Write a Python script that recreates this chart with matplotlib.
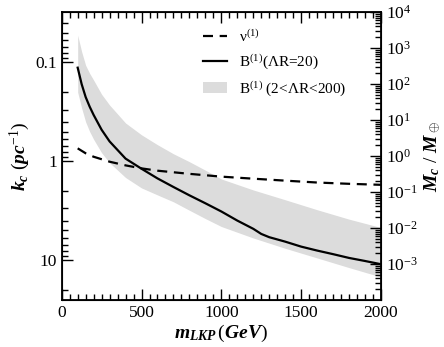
import numpy as np
import matplotlib
matplotlib.use('Agg')
import matplotlib.pyplot as plt
from matplotlib.ticker import FixedLocator, FixedFormatter, LogLocator, MultipleLocator, LogFormatterMathtext, NullFormatter

plt.rcParams['font.family'] = ['Liberation Serif', 'DejaVu Serif']
plt.rcParams['mathtext.fontset'] = 'custom'
plt.rcParams['mathtext.rm'] = 'Liberation Serif'
plt.rcParams['mathtext.it'] = 'Liberation Serif:italic:bold'
plt.rcParams['mathtext.bf'] = 'Liberation Serif:bold'
plt.rcParams['mathtext.default'] = 'rm'

#data (k_c in pc^-1 vs LKP mass in GeV)
m_solid = [100, 125, 150, 175, 200, 250, 300, 400, 500, 600, 700, 800, 900, 1000, 1100, 1200, 1250,
           1300, 1400, 1500, 1600, 1700, 1800, 1900, 2000]
k_solid = [0.113, 0.166, 0.224, 0.28, 0.34, 0.48, 0.63, 0.94, 1.19, 1.49, 1.82, 2.21, 2.66, 3.22, 3.98, 4.82, 5.43,
           5.86, 6.5, 7.3, 8.0, 8.7, 9.5, 10.2, 11.0]

m_dash = [100, 150, 200, 300, 400, 500, 600, 800, 1000, 1200, 1400, 1600, 1800, 2000]
k_dash = [0.74, 0.83, 0.90, 1.01, 1.10, 1.18, 1.245, 1.34, 1.43, 1.50, 1.57, 1.64, 1.69, 1.73]

m_band = [100, 125, 150, 175, 200, 250, 300, 400, 500, 600, 700, 800, 900, 1000, 1200, 1400, 1600, 1800, 2000]
k_band_low = [0.053, 0.078, 0.107, 0.129, 0.151, 0.21, 0.27, 0.41, 0.54, 0.68, 0.84, 1.01, 1.23, 1.51,
              1.95, 2.45, 3.09, 3.85, 4.68]
k_band_high = [0.20, 0.29, 0.40, 0.50, 0.60, 0.82, 1.035, 1.46, 1.86, 2.19, 2.57, 3.13, 3.80, 4.57,
               5.97, 7.59, 9.5, 11.9, 14.8]

k_ticks = [0.1, 1, 10]
k_labels = ['0.1', '1', '10']
mass_ticks = [1e-3, 1e-2, 1e-1, 1e0, 1e1, 1e2, 1e3, 1e4]

#figure
fig = plt.figure(figsize=(4.44, 3.47), dpi=100)
ax = fig.add_axes([0.139, 0.135, 0.719, 0.830])

band = ax.fill_between(m_band, k_band_low, k_band_high, color='#dcdcdc', linewidth=0)
dash, = ax.plot(m_dash, k_dash, color='black', linestyle=(0, (4.5, 3)), linewidth=1.6)
solid, = ax.plot(m_solid, k_solid, color='black', linewidth=1.6)

ax.set_xlim(0, 2000)
ax.set_yscale('log')
ax.set_ylim(25.4, 0.031)
ax.yaxis.set_major_locator(FixedLocator(k_ticks))
ax.yaxis.set_major_formatter(FixedFormatter(k_labels))
ax.yaxis.set_minor_locator(LogLocator(base=10, subs=np.arange(2, 10)))
ax.yaxis.set_minor_formatter(NullFormatter())
ax.xaxis.set_major_locator(MultipleLocator(500))
ax.xaxis.set_minor_locator(MultipleLocator(50))

ax.tick_params(which='both', direction='in', top=True, right=False, labelsize=12.5, width=1)
ax.tick_params(which='major', length=8)
ax.tick_params(which='minor', length=4)
for s in ax.spines.values():
    s.set_linewidth(1.3)

ax.set_xlabel(r'$\mathit{m_{LKP}\,(GeV)}$', fontsize=14, labelpad=1)
ax.set_ylabel(r'$\mathit{k_c\ (pc^{-1})}$', fontsize=14, labelpad=2)

#right axis (clump mass)
ax2 = ax.twinx()
ax2.set_yscale('log')
ax2.set_ylim(1e-4, 1e4)
ax2.yaxis.set_major_locator(FixedLocator(mass_ticks))
ax2.yaxis.set_major_formatter(LogFormatterMathtext())
ax2.yaxis.set_minor_locator(LogLocator(base=10, subs=np.arange(2, 10), numticks=20))
ax2.yaxis.set_minor_formatter(NullFormatter())
ax2.tick_params(which='both', direction='in', labelsize=12.5, width=1)
ax2.tick_params(which='major', length=8)
ax2.tick_params(which='minor', length=4)
ax2.set_ylabel(r'$\mathit{M_c\ /\ M_\oplus}$', fontsize=14, labelpad=3)

#legend
ax.legend([dash, solid, band], [r'ν$^{(1)}$', r'B$^{(1)}$(ΛR=20)', r'B$^{(1)}$ (2<ΛR<200)'],
          loc='upper left', bbox_to_anchor=(0.4425, 0.945), frameon=False, fontsize=11,
          handlelength=1.6, handletextpad=0.75, labelspacing=0.5, borderaxespad=0, borderpad=0)

plt.savefig('out.png', dpi=100)
